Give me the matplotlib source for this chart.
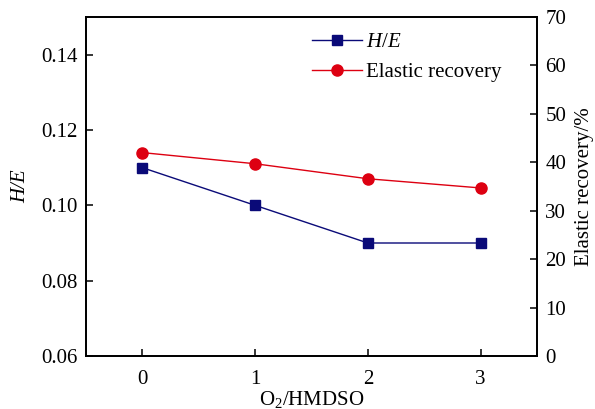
import matplotlib.pyplot as plt
from matplotlib.ticker import FormatStrFormatter

plt.rcParams['font.family'] = ['Liberation Serif', 'DejaVu Serif']
plt.rcParams['mathtext.fontset'] = 'custom'
plt.rcParams['mathtext.rm'] = 'Liberation Serif'
plt.rcParams['mathtext.it'] = 'Liberation Serif:italic'

# data
ratio = [0, 1, 2, 3]
h_over_e = [0.110, 0.100, 0.090, 0.090]
elastic_recovery = [42.0, 39.7, 36.6, 34.7]

left_ticks = [0.06, 0.08, 0.10, 0.12, 0.14]
right_ticks = [0, 10, 20, 30, 40, 50, 60, 70]

blue = "#0a0a78"
red = "#dd0011"

fig = plt.figure(figsize=(5.95, 4.09), dpi=100)
ax = fig.add_axes([0.1445, 0.1296, 0.758, 0.8288])
ax2 = ax.twinx()

l1, = ax.plot(ratio, h_over_e, marker='s', color=blue, markersize=6.5, linewidth=1.0, label=r'$H/E$')
l2, = ax2.plot(ratio, elastic_recovery, marker='o', color=red, markersize=8, linewidth=1.0, label='Elastic recovery')

ax.set_xlim(-0.5, 3.5)
ax.set_ylim(0.06, 0.15)
ax2.set_ylim(0, 70)
ax.set_xticks(ratio)
ax.set_yticks(left_ticks)
ax.yaxis.set_major_formatter(FormatStrFormatter('%.2f'))
ax2.set_yticks(right_ticks)

for a in (ax, ax2):
    a.tick_params(direction='in', length=5, width=1.1, labelsize=15, pad=6)
    for s in a.spines.values():
        s.set_linewidth(1.3)
ax.tick_params(axis='x', pad=10)

ax.set_xlabel(r'O$_2$/HMDSO', fontsize=15, labelpad=0)
ax.set_ylabel('H/E', fontsize=15, style='italic', labelpad=8)
ax2.set_ylabel('Elastic recovery/%', fontsize=15, labelpad=6)

fig.legend([l1, l2], [r'$H/E$', 'Elastic recovery'], loc='upper left',
           bbox_to_anchor=(0.51, 0.94), frameon=False, fontsize=15,
           handlelength=2.4, handletextpad=0.2, labelspacing=0.5, borderaxespad=0)

fig.savefig('out.png', dpi=100)
